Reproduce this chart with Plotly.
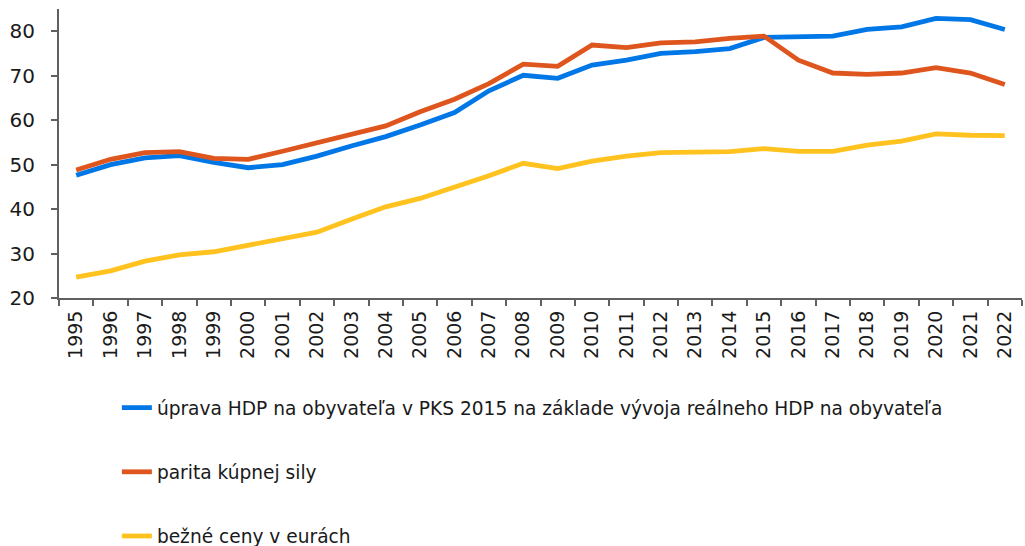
import plotly.graph_objects as go

years = [str(y) for y in range(1995, 2023)]

upr_hdp = [47.6, 50.0, 51.5, 52.0, 50.5, 49.3, 50.0, 51.9, 54.2, 56.3, 58.9, 61.7, 66.6, 70.1,
           69.4, 72.4, 73.5, 75.0, 75.4, 76.1, 78.6, 78.7, 78.9, 80.4, 81.0, 82.9, 82.6, 80.4]
pks = [48.8, 51.2, 52.7, 52.9, 51.4, 51.2, 53.0, 54.9, 57.0, 58.7, 61.9, 64.7, 68.2, 72.6,
       72.1, 76.9, 76.3, 77.4, 77.6, 78.4, 78.9, 73.5, 70.6, 70.3, 70.6, 71.8, 70.6, 68.0]
bezne = [24.7, 26.1, 28.3, 29.7, 30.4, 31.8, 33.3, 34.8, 37.7, 40.5, 42.4, 44.9, 47.5, 50.3,
         49.1, 50.8, 51.9, 52.7, 52.7, 52.9, 53.6, 53.0, 53.0, 54.4, 55.3, 56.9, 56.6, 56.5]

names = ["úprava HDP na obyvateľa v PKS 2015 na základe vývoja reálneho HDP na obyvateľa",
         "parita kúpnej sily",
         "bežné ceny v eurách"]
colors = ["#0077E6", "#DE561E", "#FFC21E"]
series = [upr_hdp, pks, bezne]

fig = go.Figure()
for i, (n, c, s) in enumerate(zip(names, colors, series)):
    fig.add_trace(go.Scatter(x=years, y=s, name=n, mode="lines",
                             legendgroup=f"g{i}",
                             line=dict(color=c, width=4.8)))

axis_col = "#606060"
fig.update_layout(
    width=1025, height=546,
    margin=dict(l=59, r=3, t=9, b=248, autoexpand=False),
    paper_bgcolor="white", plot_bgcolor="white",
    font=dict(family="DejaVu Sans", color="#1a1a1a"),
    showlegend=True,
    legend=dict(
        orientation="v", traceorder="grouped", tracegroupgap=37,
        x=0.0601, y=-0.315, xref="paper", yref="paper",
        xanchor="left", yanchor="top",
        font=dict(size=18.6, family="DejaVu Sans", color="#1a1a1a"),
        itemwidth=30,
    ),
)
fig.update_xaxes(
    type="category", tickson="boundaries",
    range=[-0.5, len(years) - 0.5],
    tickmode="array", tickvals=years, ticktext=years,
    showline=True, linecolor=axis_col, linewidth=2,
    ticks="outside", ticklen=6, tickcolor=axis_col, tickwidth=2,
    tickangle=-90, tickfont=dict(size=19), ticklabelstandoff=3,
    showgrid=False, zeroline=False,
)
fig.update_yaxes(
    range=[20, 85], tickvals=[20, 30, 40, 50, 60, 70, 80],
    showline=True, linecolor=axis_col, linewidth=2,
    ticks="outside", ticklen=6, tickcolor=axis_col, tickwidth=2,
    tickfont=dict(size=20), ticklabelstandoff=12,
    showgrid=False, zeroline=False,
)

fig.write_html("out.html", config={"displayModeBar": False},
               post_script="document.body.style.margin='0';document.body.style.overflow='hidden';")
